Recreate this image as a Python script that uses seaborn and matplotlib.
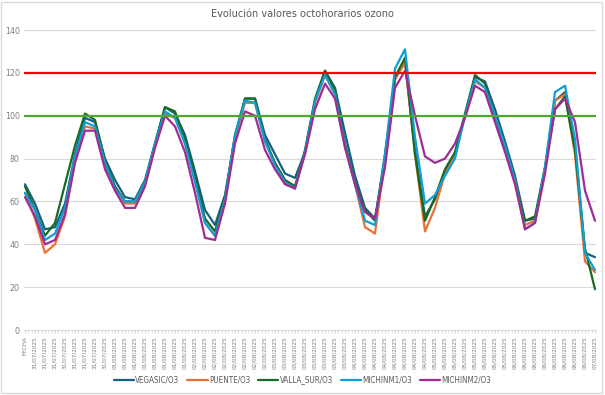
import numpy as np
import pandas as pd
import seaborn as sns
import matplotlib.pyplot as plt
from matplotlib.patches import Rectangle

sns.set_style("white")
plt.rcParams['font.family'] = ['DejaVu Sans']
plt.rcParams['font.stretch'] = 'condensed'

# etiquetas del eje (una cada 3 horas)
dias = ["31/07/2025", "01/08/2025", "02/08/2025", "03/08/2025",
        "04/08/2025", "05/08/2025", "06/08/2025"]
etiquetas = ["FECHA"] + [d for d in dias for _ in range(8)] + ["07/08/2025"]

# valores octohorarios (ug/m3) leidos cada 3 horas
vegasic = [68, 59, 47, 48, 59, 82, 99, 97, 80, 70, 62, 61, 70, 87, 104, 101, 91, 74, 56, 49,
           63, 90, 108, 108, 91, 82, 73, 71, 83, 107, 121, 113, 92, 72, 57, 52, 80, 117, 125, 84,
           53, 61, 74, 82, 100, 118, 116, 103, 88, 72, 51, 52, 75, 107, 111, 85, 36, 34]
puente = [64, 52, 36, 40, 53, 79, 95, 94, 77, 67, 59, 59, 68, 86, 101, 99, 87, 70, 50, 44,
          61, 90, 106, 106, 88, 78, 70, 67, 83, 106, 119, 110, 86, 68, 48, 45, 80, 117, 125, 82,
          46, 57, 73, 82, 100, 116, 113, 99, 85, 70, 49, 51, 75, 107, 110, 82, 32, 27]
valla_sur = [67, 56, 44, 50, 68, 86, 101, 98, 79, 67, 60, 60, 69, 87, 104, 102, 89, 72, 52, 46,
             62, 91, 108, 108, 89, 78, 70, 67, 84, 108, 121, 112, 87, 69, 56, 51, 82, 118, 127, 82,
             51, 62, 75, 83, 101, 119, 115, 100, 86, 70, 51, 53, 76, 103, 109, 84, 38, 19]
michinm1 = [64, 56, 42, 45, 57, 81, 97, 95, 78, 66, 60, 60, 69, 87, 102, 99, 87, 69, 50, 44,
            61, 91, 107, 106, 88, 77, 69, 66, 83, 107, 119, 110, 86, 68, 51, 49, 82, 122, 131, 90,
            59, 63, 72, 80, 100, 117, 113, 100, 86, 70, 47, 50, 76, 111, 114, 89, 36, 28]
michinm2 = [62, 53, 40, 42, 54, 78, 93, 93, 75, 65, 57, 57, 67, 85, 100, 95, 83, 64, 43, 42,
            59, 87, 102, 100, 84, 75, 68, 66, 82, 103, 115, 108, 85, 68, 55, 52, 76, 113, 121, 100,
            81, 78, 80, 87, 99, 114, 111, 97, 83, 68, 47, 50, 73, 103, 108, 97, 65, 51]

estaciones = ["VEGASIC/O3", "PUENTE/O3", "VALLA_SUR/O3", "MICHINM1/O3", "MICHINM2/O3"]
colores = ["#156082", "#E97132", "#196B24", "#0F9ED5", "#A02B93"]
umbral_rojo = 120
umbral_verde = 100

x = np.arange(len(etiquetas))
df = pd.DataFrame({"x": x, estaciones[0]: vegasic, estaciones[1]: puente,
                   estaciones[2]: valla_sur, estaciones[3]: michinm1, estaciones[4]: michinm2})
largo = df.melt(id_vars="x", var_name="estacion", value_name="valor")

fig = plt.figure(figsize=(6.05, 3.95), dpi=100)
ax = fig.add_axes([24 / 605, 65 / 395, 572 / 605, 300 / 395])

sns.lineplot(data=largo, x="x", y="valor", hue="estacion", hue_order=estaciones,
             palette=colores, lw=1.6, ax=ax)
ax.axhline(umbral_rojo, color="#FF0000", lw=1.6)
ax.axhline(umbral_verde, color="#4EA72E", lw=1.6)

ax.set_ylim(0, 140)
ax.set_yticks(range(0, 141, 20))
ax.set_xlim(-0.1, len(etiquetas) - 0.9)
ax.set_xticks(x)
ax.set_xticklabels(etiquetas, rotation=90, fontsize=4.6, color="#7F7F7F")
ax.set_xticks(np.arange(0, len(etiquetas) - 0.99, 1 / 3), minor=True)
ax.tick_params(axis="x", which="both", length=2.5, color="#D9D9D9", pad=2, bottom=True)
ax.tick_params(axis="y", length=0, labelsize=6.3, labelcolor="#7F7F7F", pad=3)
ax.yaxis.grid(True, color="#D9D9D9", lw=0.8)
ax.set_axisbelow(True)
for s in ["top", "right", "left"]:
    ax.spines[s].set_visible(False)
ax.spines["bottom"].set_color("#D9D9D9")
ax.set_xlabel("")
ax.set_ylabel("")

sns.move_legend(ax, "center", bbox_to_anchor=(0.5, 15 / 395), bbox_transform=fig.transFigure,
                ncol=5, title=None, frameon=False, fontsize=5.8, handlelength=2.5,
                handletextpad=0.15, columnspacing=1.0, labelcolor="#595959")

fig.text(0.5, (395 - 14) / 395, "Evolución valores octohorarios ozono", ha="center",
         va="center", fontsize=7.8, color="#595959")
fig.patches.append(Rectangle((0.002, 0.004), 0.993, 0.992, transform=fig.transFigure,
                             fill=False, edgecolor="#D9D9D9", lw=1))

fig.savefig("out.png", dpi=100)
